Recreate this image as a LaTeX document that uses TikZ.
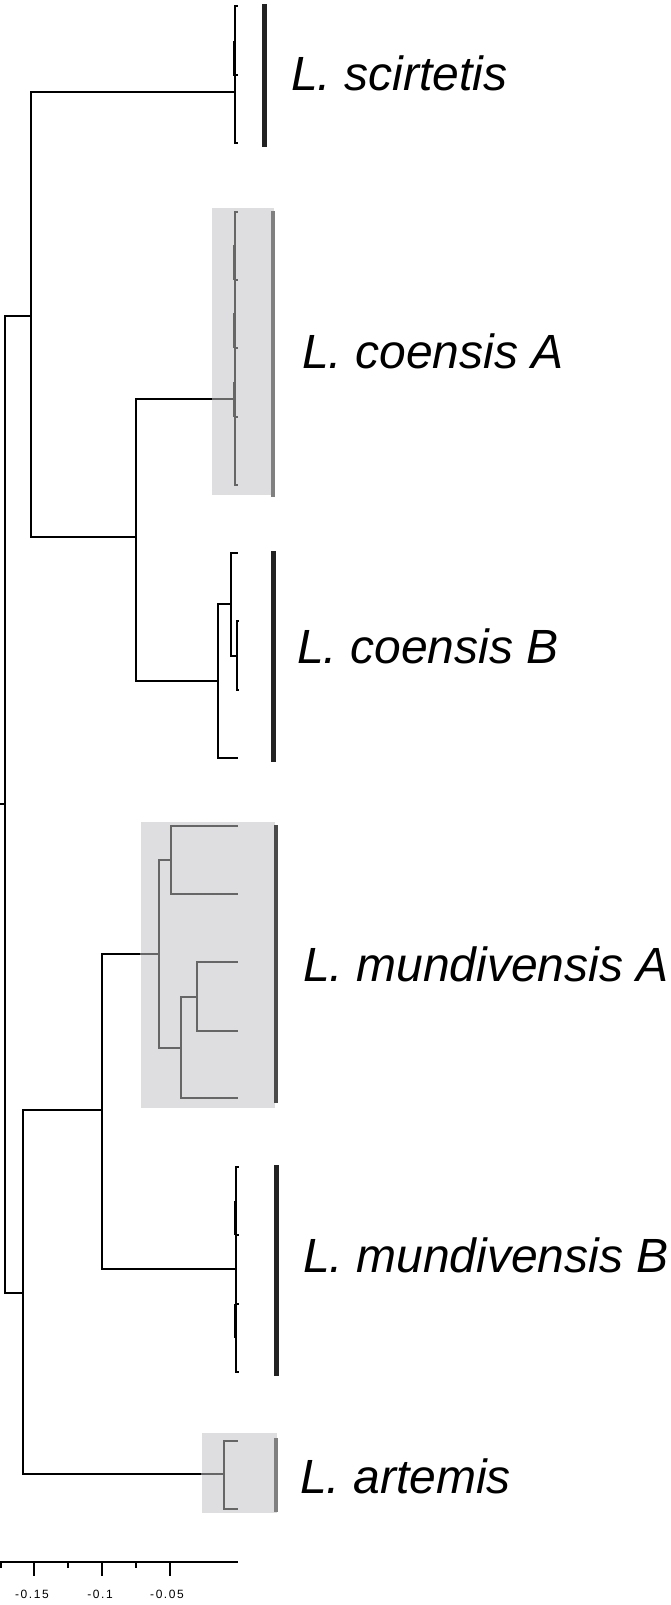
\documentclass[tikz,border=0pt]{standalone}
\usepackage{fontspec}
\setmainfont{Liberation Sans}
\newfontfamily\axisfont[LetterSpace=13]{Liberation Sans}
\definecolor{treegrey}{HTML}{666666}
\definecolor{shadegrey}{HTML}{DEDEE0}
\definecolor{bardark}{HTML}{222222}
\definecolor{barlight}{HTML}{808080}
\definecolor{barmid}{HTML}{4A4A4A}
\begin{document}
\begin{tikzpicture}[x=1pt,y=-1pt,
  branch/.style={line width=2.5pt, black},
  subbranch/.style={line width=2.3pt, treegrey},
  cladebar/.style={line width=5pt, bardark},
  lightbar/.style={line width=4.5pt, barlight},
  shade/.style={fill=shadegrey},
  taxon/.style={anchor=base west, inner sep=0pt, font=\itshape\fontsize{48}{52}\selectfont},
  axisline/.style={line width=1.7pt, black},
  ticklabel/.style={anchor=center, inner sep=0pt, font=\axisfont\fontsize{12}{13}\selectfont}]

\useasboundingbox (0,0) rectangle (670,1605);

% shaded clade backgrounds
\fill[shade] (212,208) rectangle (274,495);
\fill[shade] (141,822) rectangle (275,1108);
\fill[shade] (202,1433) rectangle (277,1513);

% internal nodes
\coordinate (root) at (5,804);
\coordinate (rootstub) at (0,804);
\coordinate (n1) at (31,316);
\coordinate (n2) at (23,1293);
\coordinate (scir) at (235,92);
\coordinate (ncoe) at (136,537);
\coordinate (coeAedge) at (212,399);
\coordinate (coeA) at (235,399);
\coordinate (coeB) at (218,681);
\coordinate (cb1) at (231,604);
\coordinate (cb2) at (237,656);
\coordinate (nmun) at (102,1110);
\coordinate (munAedge) at (140,954);
\coordinate (munA) at (159,954);
\coordinate (ma1) at (171,860);
\coordinate (ma2) at (181,1048);
\coordinate (ma3) at (197,997);
\coordinate (munB) at (236,1269);
\coordinate (artedge) at (201,1474);
\coordinate (art) at (224,1474);

% tips
\coordinate (s1) at (238,6);   \coordinate (s2) at (238,75);   \coordinate (s3) at (238,143);
\coordinate (a1) at (238,212); \coordinate (a2) at (238,280);  \coordinate (a3) at (238,348);
\coordinate (a4) at (238,417); \coordinate (a5) at (238,485);
\coordinate (b1) at (238,553); \coordinate (b2) at (239,621);  \coordinate (b3) at (239,690);
\coordinate (b4) at (238,758);
\coordinate (m1) at (238,826); \coordinate (m2) at (238,894);  \coordinate (m3) at (238,962);
\coordinate (m4) at (238,1031);\coordinate (m5) at (238,1098);
\coordinate (u1) at (239,1167);\coordinate (u2) at (239,1235); \coordinate (u3) at (239,1304);
\coordinate (u4) at (239,1372);
\coordinate (t1) at (238,1441);\coordinate (t2) at (238,1509);

% backbone
\draw[branch] (rootstub) -- (root);
\draw[branch] (root) |- (n1);
\draw[branch] (root) |- (n2);
\draw[branch] (n1) |- (scir);
\draw[branch] (n1) |- (ncoe);
\draw[branch] (ncoe) |- (coeAedge);
\draw[subbranch] (coeAedge) -- (coeA);
\draw[branch] (ncoe) |- (coeB);
\draw[branch] (n2) |- (nmun);
\draw[branch] (n2) |- (artedge);
\draw[subbranch] (artedge) -- (art);
\draw[branch] (nmun) |- (munAedge);
\draw[subbranch] (munAedge) -- (munA);
\draw[branch] (nmun) |- (munB);

% L. scirtetis
\draw[branch] (scir) |- (s1);
\draw[branch] (scir) |- (s3);
\draw[branch] ([xshift=-1pt]scir |- 0,41) -- ([xshift=-1pt]scir |- s2) -- (s2);

% L. coensis A
\draw[subbranch] (coeA) |- (a1);
\draw[subbranch] (coeA) |- (a5);
\draw[subbranch] (coeA |- a2) -- (a2);
\draw[subbranch] (coeA |- a3) -- (a3);
\draw[subbranch] (coeA |- a4) -- (a4);
\draw[subbranch] ([xshift=-1pt]coeA |- 0,245) -- ([xshift=-1pt]coeA |- a2);
\draw[subbranch] ([xshift=-1pt]coeA |- 0,313) -- ([xshift=-1pt]coeA |- a3);
\draw[subbranch] ([xshift=-1pt]coeA |- 0,382) -- ([xshift=-1pt]coeA |- a4);

% L. coensis B
\draw[branch] (coeB) |- (cb1);
\draw[branch] (coeB) |- (b4);
\draw[branch] (cb1) |- (b1);
\draw[branch] (cb1) |- (cb2);
\draw[branch] (cb2) |- (b2);
\draw[branch] (cb2) |- (b3);

% L. mundivensis A
\draw[subbranch] (munA) |- (ma1);
\draw[subbranch] (munA) |- (ma2);
\draw[subbranch] (ma1) |- (m1);
\draw[subbranch] (ma1) |- (m2);
\draw[subbranch] (ma2) |- (ma3);
\draw[subbranch] (ma2) |- (m5);
\draw[subbranch] (ma3) |- (m3);
\draw[subbranch] (ma3) |- (m4);

% L. mundivensis B
\draw[branch] (munB) |- (u1);
\draw[branch] (munB) |- (u4);
\draw[branch] (munB |- u2) -- (u2);
\draw[branch] (munB |- u3) -- (u3);
\draw[branch] ([xshift=-1pt]munB |- 0,1201) -- ([xshift=-1pt]munB |- u2);
\draw[branch] ([xshift=-1pt]munB |- u3) -- ([xshift=-1pt]munB |- 0,1338);

% L. artemis
\draw[subbranch] (art) |- (t1);
\draw[subbranch] (art) |- (t2);

% clade bars
\coordinate (barS1) at (264,4);    \coordinate (barS2) at (264,147);
\coordinate (barA1) at (273,211);  \coordinate (barA2) at (273,497);
\coordinate (barB1) at (273,551);  \coordinate (barB2) at (273,762);
\coordinate (barM1) at (276,825);  \coordinate (barM2) at (276,1103);
\coordinate (barU1) at (276,1165); \coordinate (barU2) at (276,1376);
\coordinate (barT1) at (276,1438); \coordinate (barT2) at (276,1512);
\draw[cladebar] (barS1) -- (barS2);
\draw[lightbar] (barA1) -- (barA2);
\draw[cladebar] (barB1) -- (barB2);
\draw[line width=4pt, barmid] (barM1) -- (barM2);
\draw[cladebar] (barU1) -- (barU2);
\draw[lightbar] (barT1) -- (barT2);

% clade names
\node[taxon] (lscir) at (291,91)   {L. scirtetis};
\node[taxon] (lcoeA) at (302,368)  {L. coensis A};
\node[taxon] (lcoeB) at (297,663)  {L. coensis B};
\node[taxon] (lmunA) at (303,981)  {L. mundivensis A};
\node[taxon] (lmunB) at (303,1272) {L. mundivensis B};
\node[taxon] (lart)  at (300,1493) {L. artemis};

% distance axis
\coordinate (ax0) at (0,1562);
\coordinate (ax1) at (238,1562);
\draw[axisline] (ax0) -- (ax1);
\foreach \x in {34,102,170} \draw[axisline] (\x,1562) -- (\x,1576);
\foreach \x in {1,68,136} \draw[axisline] (\x,1562) -- (\x,1568);
\node[ticklabel] (l15) at (32,1594)  {-0.15};
\node[ticklabel] (l10) at (100,1594) {-0.1};
\node[ticklabel] (l05) at (167,1594) {-0.05};
\end{tikzpicture}
\end{document}
